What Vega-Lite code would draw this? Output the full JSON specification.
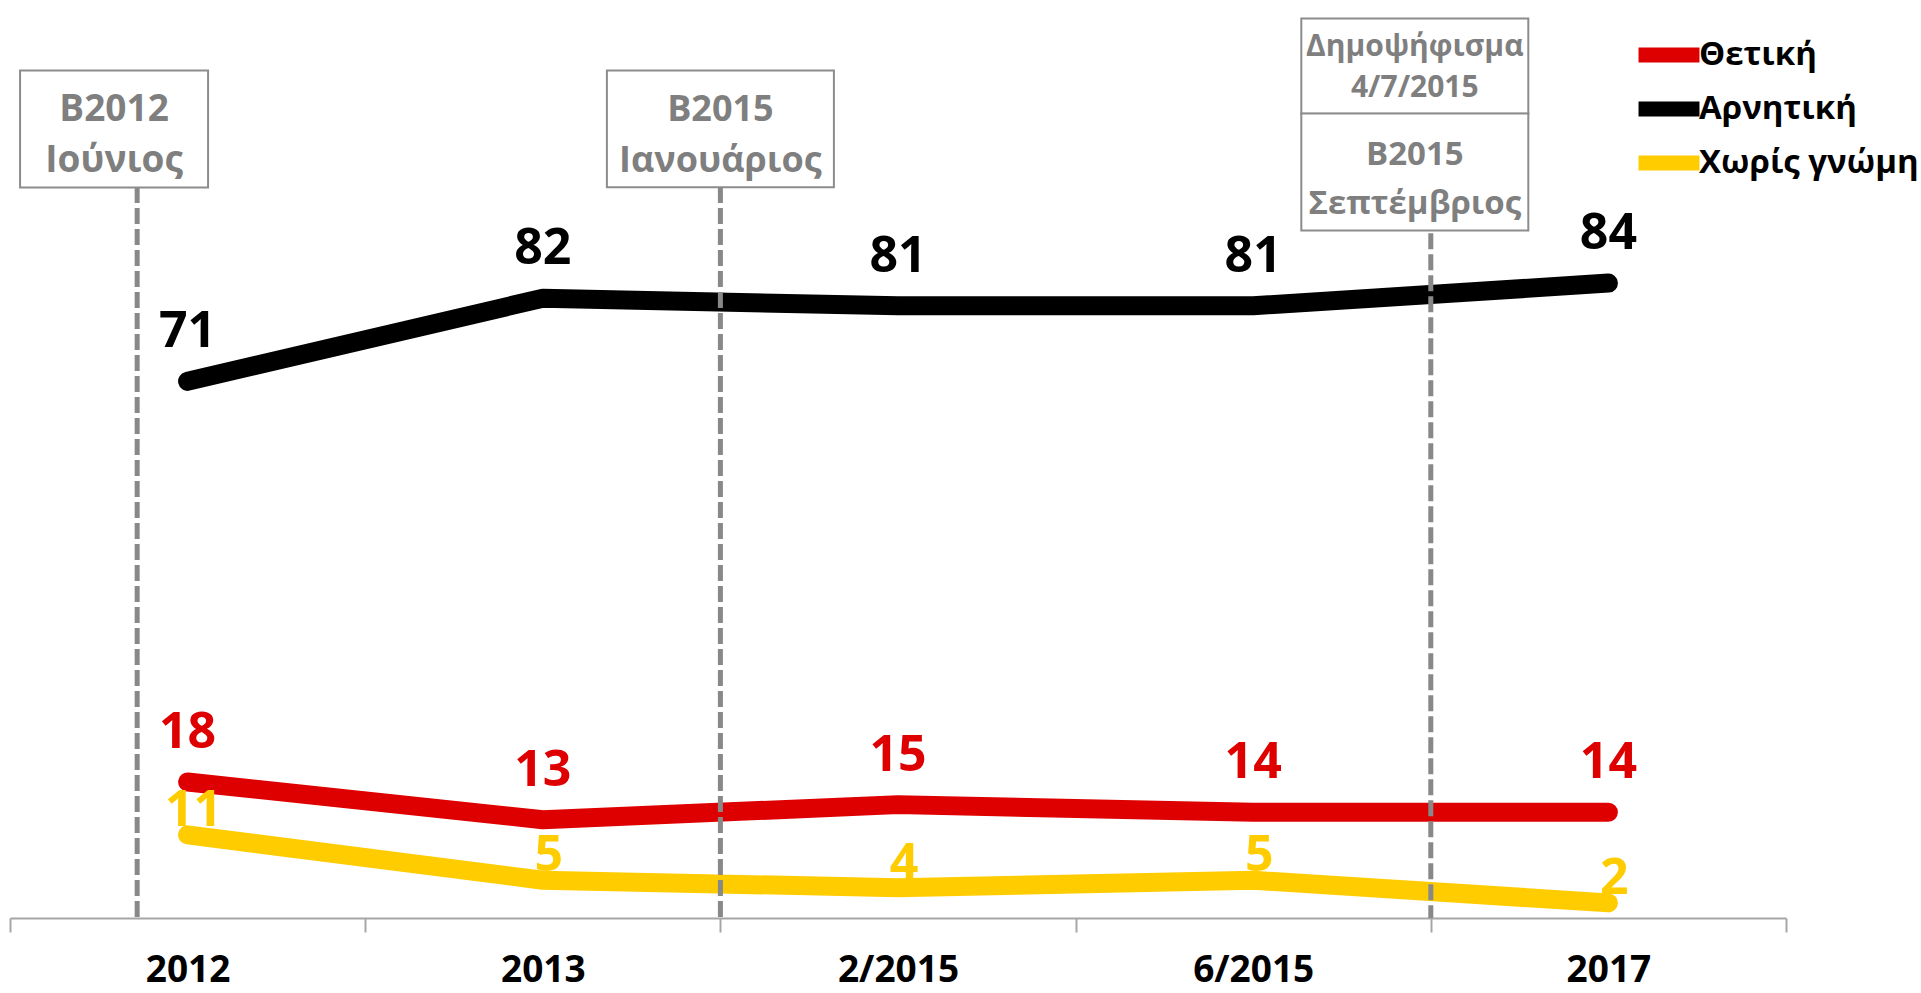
{
  "$schema": "https://vega.github.io/schema/vega-lite/v6.json",
  "width": 1776,
  "height": 907,
  "autosize": {"type": "none"},
  "padding": {"left": 10, "top": 11, "right": 135, "bottom": 75},
  "background": "white",
  "config": {"view": {"stroke": null}, "font": "Open Sans"},
  "data": {
    "values": [
      {"period": "2012", "series": "Θετική", "value": 18},
      {"period": "2013", "series": "Θετική", "value": 13},
      {"period": "2/2015", "series": "Θετική", "value": 15},
      {"period": "6/2015", "series": "Θετική", "value": 14},
      {"period": "2017", "series": "Θετική", "value": 14},
      {"period": "2012", "series": "Αρνητική", "value": 71},
      {"period": "2013", "series": "Αρνητική", "value": 82},
      {"period": "2/2015", "series": "Αρνητική", "value": 81},
      {"period": "6/2015", "series": "Αρνητική", "value": 81},
      {"period": "2017", "series": "Αρνητική", "value": 84},
      {"period": "2012", "series": "Χωρίς γνώμη", "value": 11},
      {"period": "2013", "series": "Χωρίς γνώμη", "value": 5},
      {"period": "2/2015", "series": "Χωρίς γνώμη", "value": 4},
      {"period": "6/2015", "series": "Χωρίς γνώμη", "value": 5},
      {"period": "2017", "series": "Χωρίς γνώμη", "value": 2}
    ]
  },
  "layer": [
    {
      "mark": {"type": "line", "strokeWidth": 19, "strokeCap": "round", "strokeJoin": "round"},
      "encoding": {
        "x": {
          "field": "period", "type": "ordinal", "bandPosition": 0.5,
          "scale": {"type": "band", "paddingInner": 0, "paddingOuter": 0, "domain": ["2012", "2013", "2/2015", "6/2015", "2017"]},
          "axis": {"title": null, "labelFont": "Open Sans", "labelFontSize": 37, "labelFontWeight": "bold", "labelColor": "black", "labelAngle": 0, "labelAlign": "center", "labelBaseline": "top", "tickBand": "extent", "tickSize": 14, "tickColor": "#A6A6A6", "tickWidth": 2, "domainColor": "#A6A6A6", "domainWidth": 2, "labelPadding": 20, "grid": false}
        },
        "y": {"field": "value", "type": "quantitative", "scale": {"domain": [0, 120], "nice": false, "zero": true}, "axis": null},
        "color": {
          "field": "series", "type": "nominal",
          "scale": {"domain": ["Θετική", "Αρνητική", "Χωρίς γνώμη"], "range": ["#DE0000", "#000000", "#FFCC00"]},
          "legend": {"title": null, "orient": "none", "legendX": 1640, "legendY": 25, "padding": 0, "symbolType": "M-2.65,0H2.65", "symbolSize": 529, "symbolStrokeWidth": 15, "labelFont": "Open Sans", "labelFontSize": 33, "labelFontWeight": "bold", "labelColor": "black", "labelOffset": 11, "rowPadding": -6, "labelLimit": 400}
        }
      }
    },
    {
      "data": {"values": [{"period": "2012", "top": 96.7}]},
      "mark": {"type": "rule", "stroke": "#888888", "strokeWidth": 5, "strokeDash": [16, 5]},
      "encoding": {
        "x": {"field": "period", "type": "ordinal", "bandPosition": 0.358, "scale": {"type": "band", "paddingInner": 0, "paddingOuter": 0, "domain": ["2012", "2013", "2/2015", "6/2015", "2017"]}},
        "y": {"field": "top", "type": "quantitative"},
        "y2": {"datum": 0}
      }
    },
    {
      "data": {"values": [{"period": "2/2015", "top": 96.7}, {"period": "2017", "top": 90.6}]},
      "mark": {"type": "rule", "stroke": "#888888", "strokeWidth": 5, "strokeDash": [16, 5]},
      "encoding": {
        "x": {"field": "period", "type": "ordinal", "bandPosition": 0, "scale": {"type": "band", "paddingInner": 0, "paddingOuter": 0, "domain": ["2012", "2013", "2/2015", "6/2015", "2017"]}},
        "y": {"field": "top", "type": "quantitative"},
        "y2": {"datum": 0}
      }
    },
    {
      "data": {"values": [{"period": "2012", "label": "B2012\nΙούνιος", "ypos": 104.4}]},
      "layer": [
        {"mark": {"type": "point", "shape": "M-1,-0.622H1V0.622H-1Z", "size": 35344, "filled": true, "fill": "white", "stroke": "#8C8C8C", "strokeWidth": 2, "opacity": 1}},
        {"mark": {"type": "text", "fontSize": 37, "fontWeight": "bold", "fill": "#7F7F7F", "lineBreak": "\n", "lineHeight": 51, "baseline": "middle", "align": "center", "dy": -19}, "encoding": {"text": {"field": "label"}}}
      ],
      "encoding": {
        "x": {"field": "period", "type": "ordinal", "bandPosition": 0.293, "scale": {"type": "band", "paddingInner": 0, "paddingOuter": 0, "domain": ["2012", "2013", "2/2015", "6/2015", "2017"]}},
        "y": {"field": "ypos", "type": "quantitative"}
      }
    },
    {
      "data": {"values": [{"period": "2/2015", "label": "B2015\nΙανουάριος", "ypos": 104.4}]},
      "layer": [
        {"mark": {"type": "point", "shape": "M-1,-0.515H1V0.515H-1Z", "size": 51529, "filled": true, "fill": "white", "stroke": "#8C8C8C", "strokeWidth": 2, "opacity": 1}},
        {"mark": {"type": "text", "fontSize": 36, "fontWeight": "bold", "fill": "#7F7F7F", "lineBreak": "\n", "lineHeight": 51, "baseline": "middle", "align": "center", "dy": -19}, "encoding": {"text": {"field": "label"}}}
      ],
      "encoding": {
        "x": {"field": "period", "type": "ordinal", "bandPosition": 0, "scale": {"type": "band", "paddingInner": 0, "paddingOuter": 0, "domain": ["2012", "2013", "2/2015", "6/2015", "2017"]}},
        "y": {"field": "ypos", "type": "quantitative"}
      }
    },
    {
      "data": {"values": [{"period": "6/2015", "label": "Δημοψήφισμα\n4/7/2015", "ypos": 112.7}]},
      "layer": [
        {"mark": {"type": "point", "shape": "M-1,-0.419H1V0.419H-1Z", "size": 51529, "filled": true, "fill": "white", "stroke": "#8C8C8C", "strokeWidth": 2, "opacity": 1}},
        {"mark": {"type": "text", "fontSize": 30, "fontWeight": "bold", "fill": "#7F7F7F", "lineBreak": "\n", "lineHeight": 41, "baseline": "middle", "align": "center", "dy": -19}, "encoding": {"text": {"field": "label"}}}
      ],
      "encoding": {
        "x": {"field": "period", "type": "ordinal", "bandPosition": 0.955, "scale": {"type": "band", "paddingInner": 0, "paddingOuter": 0, "domain": ["2012", "2013", "2/2015", "6/2015", "2017"]}},
        "y": {"field": "ypos", "type": "quantitative"}
      }
    },
    {
      "data": {"values": [{"period": "6/2015", "label": "B2015\nΣεπτέμβριος", "ypos": 98.7}]},
      "layer": [
        {"mark": {"type": "point", "shape": "M-1,-0.515H1V0.515H-1Z", "size": 51529, "filled": true, "fill": "white", "stroke": "#8C8C8C", "strokeWidth": 2, "opacity": 1}},
        {"mark": {"type": "text", "fontSize": 33, "fontWeight": "bold", "fill": "#7F7F7F", "lineBreak": "\n", "lineHeight": 49, "baseline": "middle", "align": "center", "dy": -17}, "encoding": {"text": {"field": "label"}}}
      ],
      "encoding": {
        "x": {"field": "period", "type": "ordinal", "bandPosition": 0.955, "scale": {"type": "band", "paddingInner": 0, "paddingOuter": 0, "domain": ["2012", "2013", "2/2015", "6/2015", "2017"]}},
        "y": {"field": "ypos", "type": "quantitative"}
      }
    },
    {
      "transform": [{"filter": "datum.series !== 'Χωρίς γνώμη'"}],
      "mark": {"type": "text", "fontSize": 50, "fontWeight": "bold", "dy": -34, "baseline": "alphabetic", "align": "center"},
      "encoding": {
        "x": {"field": "period", "type": "ordinal", "bandPosition": 0.5, "scale": {"type": "band", "paddingInner": 0, "paddingOuter": 0, "domain": ["2012", "2013", "2/2015", "6/2015", "2017"]}},
        "y": {"field": "value", "type": "quantitative"},
        "text": {"field": "value"},
        "fill": {"field": "series", "type": "nominal", "scale": {"domain": ["Θετική", "Αρνητική", "Χωρίς γνώμη"], "range": ["#DE0000", "#000000", "#FFCC00"]}, "legend": null}
      }
    },
    {
      "transform": [{"filter": "datum.series === 'Χωρίς γνώμη'"}],
      "mark": {"type": "text", "fontSize": 50, "fontWeight": "bold", "dy": -9, "dx": 6, "baseline": "alphabetic", "align": "center"},
      "encoding": {
        "x": {"field": "period", "type": "ordinal", "bandPosition": 0.5, "scale": {"type": "band", "paddingInner": 0, "paddingOuter": 0, "domain": ["2012", "2013", "2/2015", "6/2015", "2017"]}},
        "y": {"field": "value", "type": "quantitative"},
        "text": {"field": "value"},
        "fill": {"field": "series", "type": "nominal", "scale": {"domain": ["Θετική", "Αρνητική", "Χωρίς γνώμη"], "range": ["#DE0000", "#000000", "#FFCC00"]}, "legend": null}
      }
    }
  ]
}
